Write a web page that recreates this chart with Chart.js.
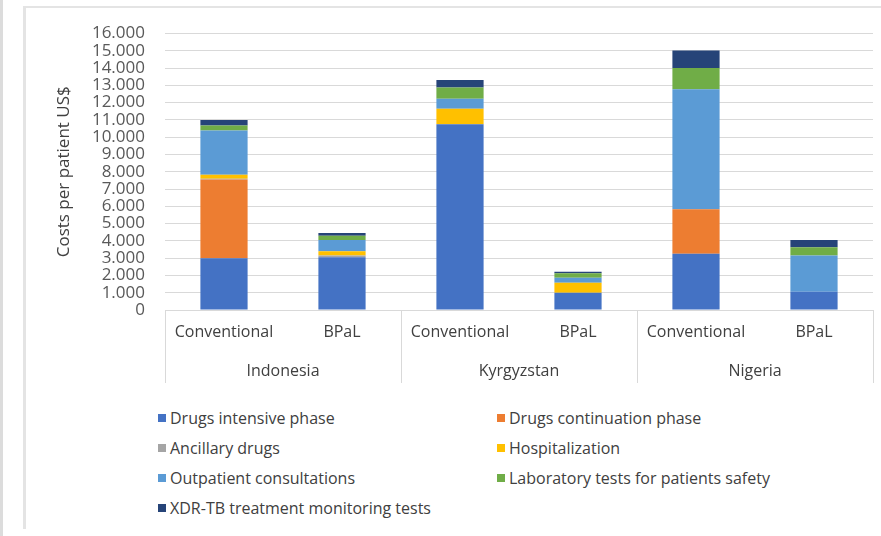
<!DOCTYPE html>
<html>
<head>
    <meta charset="UTF-8">
    <title>Costs per patient</title>
    <script src="https://cdn.jsdelivr.net/npm/chart.js"></script>
    <style>
        html, body {
            margin: 0;
            padding: 0;
            background: #fff;
            font-family: "Open Sans", sans-serif;
        }
        body {
            width: 881px;
            height: 536px;
            position: relative;
            overflow: hidden;
        }
        .strip {
            position: absolute;
            left: 0; top: 0;
            width: 3px; height: 536px;
            background: #dcdcdc;
        }
        .panel {
            position: absolute;
            left: 23px; top: 6px;
            width: 880px; height: 521px;
            border-left: 3px solid #e4e4e4;
            border-top: 2px solid #e4e4e4;
        }
        .chart-box {
            position: absolute;
            left: 26px; top: 5px;
            width: 855px; height: 395px;
        }
        #legend {
            position: absolute;
            left: 158px; top: 407px;
            display: grid;
            grid-template-columns: 339px 320px;
            grid-auto-rows: 30px;
            font-size: 16px;
            color: #404040;
        }
        #legend span.box {
            display: inline-block;
            width: 8px; height: 8px;
            margin-right: 4px;
            vertical-align: 2px;
        }
    </style>
</head>
<body>
    <div class="strip"></div>
    <div class="panel"></div>
    <div class="chart-box">
        <canvas id="chart"></canvas>
    </div>
    <div id="legend"></div>
    <script>
    // categories
    const regimens = ['Conventional', 'BPaL', 'Conventional', 'BPaL', 'Conventional', 'BPaL'];
    const countries = ['Indonesia', 'Kyrgyzstan', 'Nigeria'];

    // cost components per patient (US$)
    const drugsIntensive    = [3000, 3050, 10750, 1000, 3250, 1050];
    const drugsContinuation = [4550, 0, 0, 0, 2580, 0];
    const ancillaryDrugs    = [50, 100, 0, 0, 0, 0];
    const hospitalization   = [230, 250, 900, 570, 0, 0];
    const outpatient        = [2550, 650, 580, 300, 6940, 2100];
    const labTests          = [300, 250, 650, 250, 1230, 480];
    const xdrMonitoring     = [320, 150, 430, 100, 1010, 420];

    const yTicks = { min: 0, max: 16000, step: 1000 };

    const series = [
        { label: 'Drugs intensive phase', data: drugsIntensive, color: '#4472C4' },
        { label: 'Drugs continuation phase', data: drugsContinuation, color: '#ED7D31' },
        { label: 'Ancillary drugs', data: ancillaryDrugs, color: '#A5A5A5' },
        { label: 'Hospitalization', data: hospitalization, color: '#FFC000' },
        { label: 'Outpatient consultations', data: outpatient, color: '#5B9BD5' },
        { label: 'Laboratory tests for patients safety', data: labTests, color: '#70AD47' },
        { label: 'XDR-TB treatment monitoring tests', data: xdrMonitoring, color: '#264478' }
    ];

    const fmt = v => String(v).replace(/\B(?=(\d{3})+(?!\d))/g, '.');

    // country names under each pair of bars
    const groupLabels = {
        id: 'groupLabels',
        afterDraw(chart) {
            const x = chart.scales.x;
            const ctx = chart.ctx;
            ctx.save();
            ctx.font = '16px "Open Sans"';
            ctx.fillStyle = '#404040';
            ctx.textAlign = 'center';
            ctx.textBaseline = 'middle';
            countries.forEach((c, i) => {
                const mid = (x.getPixelForValue(i * 2) + x.getPixelForValue(i * 2 + 1)) / 2;
                ctx.fillText(c, mid, chart.chartArea.bottom + 61);
            });
            ctx.restore();
        }
    };

    new Chart(document.getElementById('chart'), {
        type: 'bar',
        data: {
            labels: regimens,
            datasets: series.map(s => ({
                label: s.label,
                data: s.data,
                backgroundColor: s.color,
                borderWidth: 0,
                categoryPercentage: 1,
                barPercentage: 0.4
            }))
        },
        options: {
            responsive: true,
            maintainAspectRatio: false,
            animation: false,
            layout: { padding: { left: 0, right: 8, top: 13, bottom: 0 } },
            plugins: {
                legend: { display: false },
                tooltip: { enabled: false }
            },
            scales: {
                x: {
                    stacked: true,
                    afterFit: s => { s.height = 90; },
                    grid: {
                        display: true,
                        offset: true,
                        drawOnChartArea: false,
                        drawTicks: true,
                        tickLength: 73,
                        color: c => (c.index === undefined || c.index % 2 === 0) ? '#d9d9d9' : 'rgba(0,0,0,0)'
                    },
                    border: { display: true, color: '#d9d9d9' },
                    ticks: {
                        autoSkip: false,
                        maxRotation: 0,
                        padding: -60,
                        color: '#404040',
                        font: { family: 'Open Sans', size: 16 }
                    }
                },
                y: {
                    stacked: true,
                    min: yTicks.min,
                    max: yTicks.max,
                    afterFit: s => { s.width = 139; },
                    grid: { color: '#d9d9d9', drawTicks: false },
                    border: { display: false },
                    ticks: {
                        autoSkip: false,
                        stepSize: yTicks.step,
                        padding: 20,
                        color: '#595959',
                        font: { family: 'Open Sans', size: 17, lineHeight: 1 },
                        callback: v => fmt(v)
                    },
                    title: {
                        display: true,
                        text: 'Costs per patient US$',
                        color: '#404040',
                        font: { family: 'Open Sans', size: 17 },
                        padding: { top: 28, bottom: 0 }
                    }
                }
            }
        },
        plugins: [groupLabels]
    });

    const legend = document.getElementById('legend');
    legend.innerHTML = series.map(s =>
        '<div><span class="box" style="background:' + s.color + '"></span>' + s.label + '</div>'
    ).join('');
    </script>
</body>
</html>
